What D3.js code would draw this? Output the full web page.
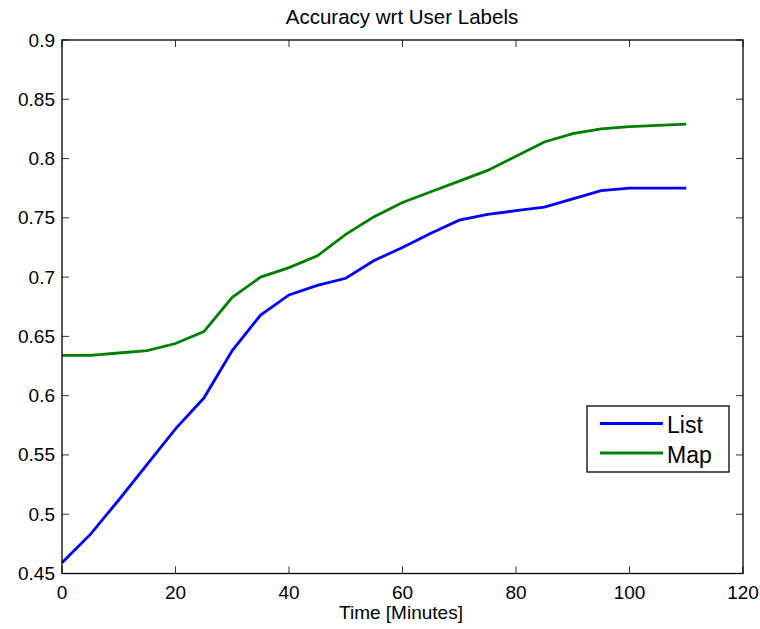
<!DOCTYPE html>
<html>
<head>
<meta charset="utf-8">
<script src="https://cdn.jsdelivr.net/npm/d3@7"></script>
<style>
  body { margin: 0; background: #fff; }
  text { font-family: "Liberation Sans", Arial, sans-serif; fill: #000; }
</style>
</head>
<body>
<svg width="760" height="629"></svg>
<script>
const minutes = [0, 5, 10, 15, 20, 25, 30, 35, 40, 45, 50, 55, 60, 65, 70, 75, 80, 85, 90, 95, 100, 105, 110]
const listAcc = [0.459, 0.483, 0.512, 0.542, 0.572, 0.598, 0.638, 0.668, 0.685, 0.693, 0.699, 0.714, 0.725, 0.737, 0.748, 0.753, 0.756, 0.759, 0.766, 0.773, 0.775, 0.775, 0.775]
const mapAcc = [0.634, 0.634, 0.636, 0.638, 0.644, 0.654, 0.683, 0.700, 0.708, 0.718, 0.736, 0.751, 0.763, 0.772, 0.781, 0.790, 0.802, 0.814, 0.821, 0.825, 0.827, 0.828, 0.829]
const xTicks = [0, 20, 40, 60, 80, 100, 120]
const yTicks = [0.45, 0.5, 0.55, 0.6, 0.65, 0.7, 0.75, 0.8, 0.85, 0.9]

const series = [
  { name: 'List', values: listAcc, color: '#0000ff' },
  { name: 'Map', values: mapAcc, color: '#008000' },
]

const svg = d3.select('svg')
const plotLeft = 62, plotRight = 743, plotTop = 40, plotBottom = 573.5

const x = d3.scaleLinear().domain([0, 120]).range([plotLeft, plotRight])
const y = d3.scaleLinear().domain([0.45, 0.9]).range([plotBottom, plotTop])

// inward ticks on all four sides, matlab style
const tickLen = 7
const ticks = svg.append('g').attr('stroke', '#333').attr('stroke-width', 1)
xTicks.forEach(t => {
  ticks.append('line').attr('x1', x(t)).attr('x2', x(t)).attr('y1', plotBottom).attr('y2', plotBottom - tickLen)
  ticks.append('line').attr('x1', x(t)).attr('x2', x(t)).attr('y1', plotTop).attr('y2', plotTop + tickLen)
})
yTicks.forEach(t => {
  ticks.append('line').attr('x1', plotLeft).attr('x2', plotLeft + tickLen).attr('y1', y(t)).attr('y2', y(t))
  ticks.append('line').attr('x1', plotRight).attr('x2', plotRight - tickLen).attr('y1', y(t)).attr('y2', y(t))
})

svg.append('g').selectAll('text')
  .data(xTicks)
  .enter()
  .append('text')
  .attr('x', d => x(d))
  .attr('y', 599)
  .attr('text-anchor', 'middle')
  .style('font-size', '19px')
  .text(d => d)

svg.append('g').selectAll('text')
  .data(yTicks)
  .enter()
  .append('text')
  .attr('x', plotLeft - 7)
  .attr('y', d => y(d) + 6.5)
  .attr('text-anchor', 'end')
  .style('font-size', '19px')
  .text(d => d)

const line = d3.line()
  .x((d, i) => x(minutes[i]))
  .y(d => y(d))

svg.append('g').selectAll('path')
  .data(series)
  .enter()
  .append('path')
  .attr('d', d => line(d.values))
  .attr('fill', 'none')
  .attr('stroke', d => d.color)
  .attr('stroke-width', 2.8)

svg.append('rect')
  .attr('x', plotLeft).attr('y', plotTop)
  .attr('width', plotRight - plotLeft).attr('height', plotBottom - plotTop)
  .attr('fill', 'none').attr('stroke', '#000').attr('stroke-width', 1.3)

// legend
const legend = svg.append('g').attr('transform', 'translate(587,406)')
legend.append('rect')
  .attr('width', 142).attr('height', 66)
  .attr('fill', '#fff').attr('stroke', '#000').attr('stroke-width', 1.3)
series.forEach((s, i) => {
  const ly = 17.5 + i * 29.5
  legend.append('line')
    .attr('x1', 13).attr('x2', 76).attr('y1', ly).attr('y2', ly)
    .attr('stroke', s.color).attr('stroke-width', 2.8)
  legend.append('text')
    .attr('x', 80).attr('y', ly + 9.5)
    .style('font-size', '23px')
    .text(s.name)
})

svg.append('text')
  .attr('x', 402).attr('y', 23.5)
  .attr('text-anchor', 'middle')
  .style('font-size', '20.5px')
  .text('Accuracy wrt User Labels')

svg.append('text')
  .attr('x', 401).attr('y', 619)
  .attr('text-anchor', 'middle')
  .style('font-size', '19px')
  .text('Time [Minutes]')
</script>
</body>
</html>
